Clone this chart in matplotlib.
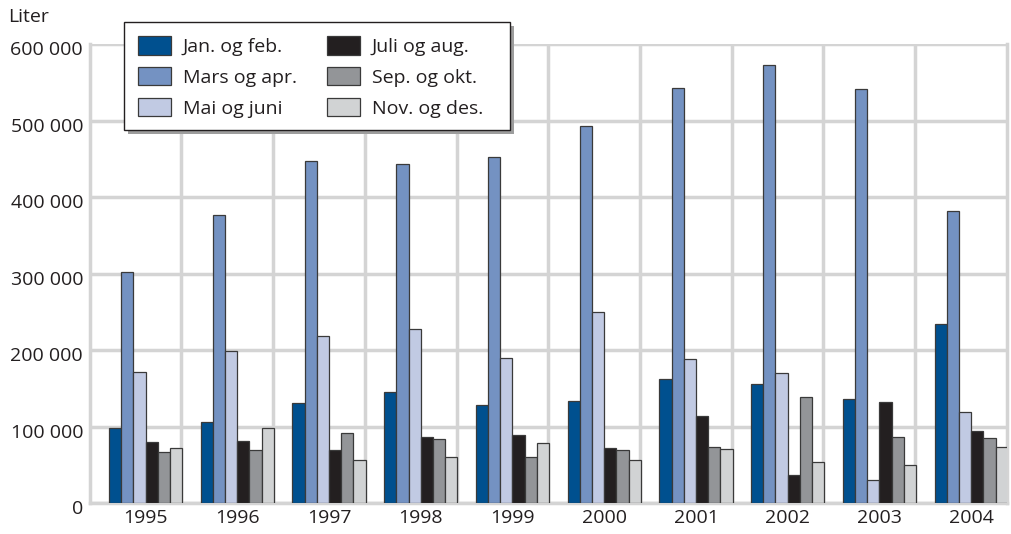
import matplotlib.pyplot as plt
import matplotlib.ticker as mticker
import matplotlib.transforms as mtransforms
from matplotlib.patches import Rectangle
import numpy as np

plt.rcParams['font.family'] = ['Open Sans', 'DejaVu Sans']

years = ['1995', '1996', '1997', '1998', '1999', '2000', '2001', '2002', '2003', '2004']
series_names = ['Jan. og feb.', 'Mars og apr.', 'Mai og juni',
                'Juli og aug.', 'Sep. og okt.', 'Nov. og des.']

jan_feb = [98000, 106000, 131000, 145000, 128000, 133000, 162000, 156000, 136000, 234000]
mars_apr = [302000, 376000, 447000, 443000, 453000, 493000, 543000, 573000, 541000, 382000]
mai_juni = [171000, 199000, 219000, 228000, 190000, 250000, 188000, 170000, 30000, 119000]
juli_aug = [80000, 82000, 70000, 86000, 89000, 72000, 114000, 37000, 132000, 95000]
sep_okt = [67000, 70000, 92000, 84000, 61000, 69000, 73000, 139000, 87000, 85000]
nov_des = [72000, 98000, 57000, 61000, 79000, 56000, 71000, 54000, 50000, 73000]

colors = ['#00508f', '#7492c2', '#c1cae3', '#231f20', '#939598', '#d1d3d4']
grid_color = '#d4d4d4'
text_color = '#231f20'

W, H = 1012, 534
fig = plt.figure(figsize=(W / 100, H / 100), dpi=100)
ax = fig.add_axes([0.0889, 0.0575, 0.9061, 0.8601])

x = np.arange(len(years))
w = 0.133
all_series = [jan_feb, mars_apr, mai_juni, juli_aug, sep_okt, nov_des]
handles = []
for i, (vals, name, c) in enumerate(zip(all_series, series_names, colors)):
    b = ax.bar(x + (i - 2.5) * w, vals, width=w, color=c, edgecolor='#3a3a3a',
               linewidth=0.9, label=name, zorder=3)
    handles.append(b)

ax.set_xlim(-0.606, 9.39)
ax.set_ylim(0, 600000)
ax.yaxis.set_major_locator(mticker.MultipleLocator(100000))
ax.yaxis.set_major_formatter(mticker.FuncFormatter(
    lambda v, p: f'{int(v):,}'.replace(',', ' ')))
ax.set_xticks(x)
ax.set_xticklabels(years)
ax.tick_params(length=0, labelsize=14, colors=text_color)
ax.tick_params(axis='y', pad=5)
ax.tick_params(axis='x', pad=4)

# y labels sit a few pixels below their gridlines in the original
shift = mtransforms.ScaledTranslation(0, -4 / 100, fig.dpi_scale_trans)
for lab in ax.get_yticklabels():
    lab.set_transform(lab.get_transform() + shift)

ax.grid(axis='y', color=grid_color, linewidth=2.5, zorder=0)
for k in range(1, 10):
    ax.axvline(k - 0.61, color=grid_color, linewidth=2.5, zorder=0)
for s in ax.spines.values():
    s.set_color(grid_color)
    s.set_linewidth(2.5)
ax.spines['top'].set_visible(False)
ax.set_axisbelow(True)

fig.text(0.008, 0.968, 'Liter', fontsize=14, color=text_color, va='center')

# legend box drawn by hand (wider right margin than matplotlib gives)
bx0, by0, bx1, by1 = 124, 22, 510, 130
fig.add_artist(Rectangle(((bx0 + 4) / W, 1 - (by1 + 4) / H), (bx1 - bx0) / W,
                         (by1 - by0) / H, transform=fig.transFigure,
                         facecolor='#9d9d9d', edgecolor='none', zorder=3))
fig.add_artist(Rectangle((bx0 / W, 1 - by1 / H), (bx1 - bx0) / W,
                         (by1 - by0) / H, transform=fig.transFigure,
                         facecolor='white', edgecolor=text_color,
                         linewidth=1.0, zorder=4))

leg = fig.legend(handles=handles, ncol=2, loc='upper left',
                 bbox_to_anchor=(bx0 / W, 1 - by0 / H), borderaxespad=0,
                 fontsize=14, frameon=False, handlelength=1.7,
                 handleheight=1.1, handletextpad=0.6, columnspacing=1.55,
                 labelspacing=0.56, borderpad=0.72)
leg.set_zorder(5)
for t in leg.get_texts():
    t.set_color(text_color)

fig.savefig('out.png', dpi=100)
